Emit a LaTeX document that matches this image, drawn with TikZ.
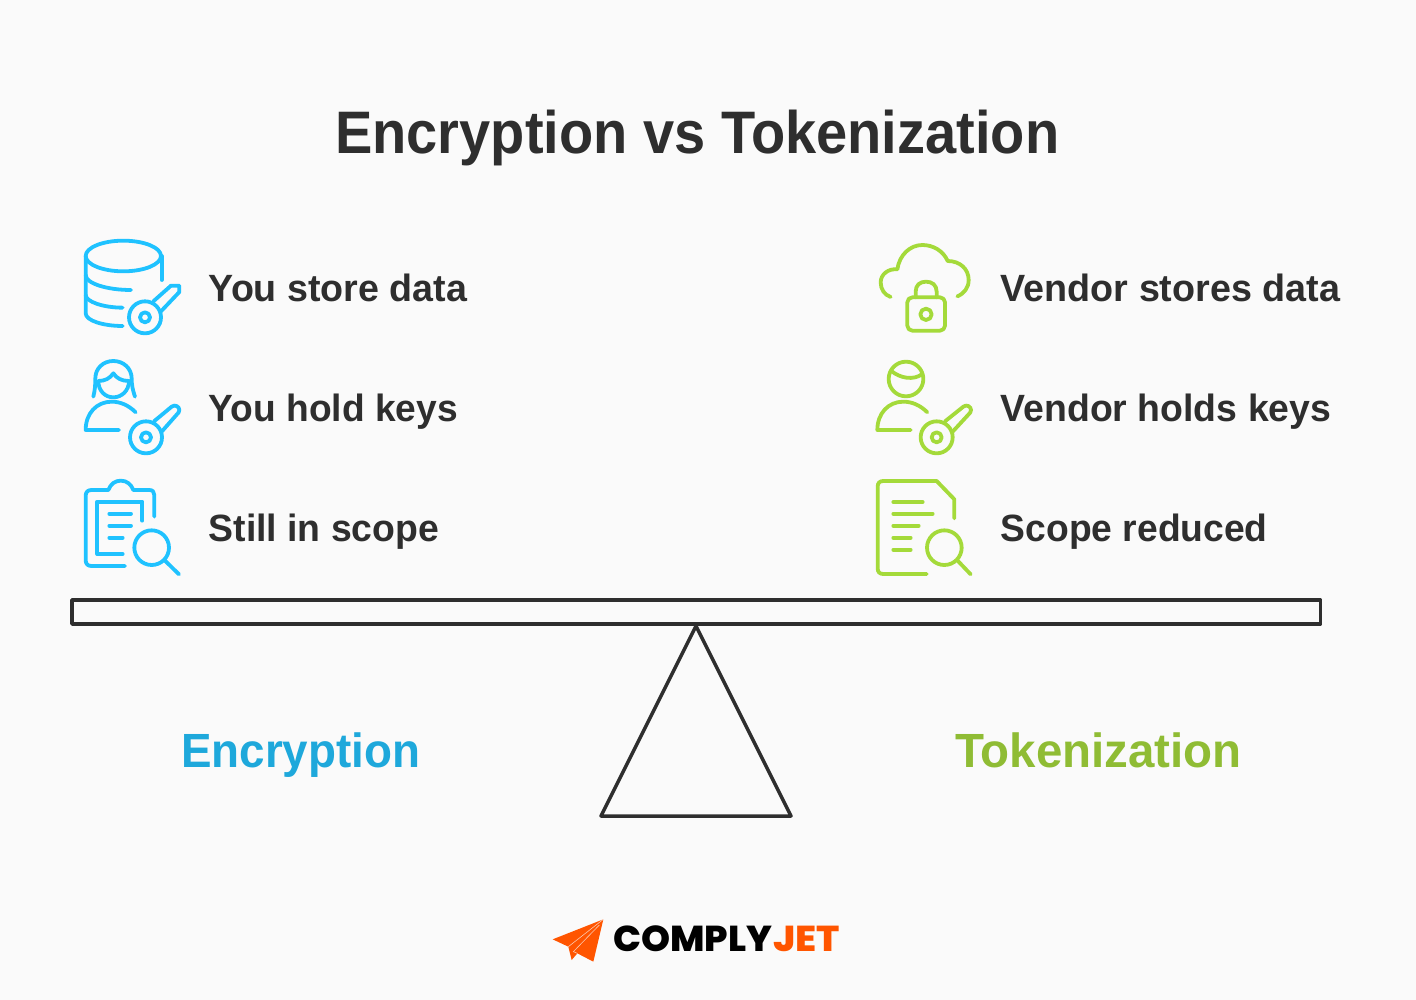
\documentclass[tikz,border=0pt]{standalone}
\usepackage{fontspec}
\usepackage{graphicx}
\setmainfont{Liberation Sans}[BoldFont={Liberation Sans Bold}]
\newfontfamily\logofont{Poppins}[BoldFont={Poppins ExtraBold}]
\definecolor{bgc}{HTML}{FAFAFA}
\definecolor{ink}{HTML}{2E2E2E}
\definecolor{iblue}{HTML}{1FC2FF}
\definecolor{igreen}{HTML}{A4DA3A}
\definecolor{tblue}{HTML}{1EA8DB}
\definecolor{tgreen}{HTML}{8FBC34}
\definecolor{jet}{HTML}{FF5500}
\newsavebox\tbx
\newcommand\fw[3]{\fontsize{#2}{#2}\selectfont\bfseries\sbox\tbx{#3}\resizebox{#1pt}{\ht\tbx}{\usebox\tbx}}
\tikzset{
  icon/.style={line width=3.8pt,line cap=round,line join=round},
  zoomed/.style={shift={#1},scale=1/3},
  lbl/.style={anchor=base west,inner sep=0pt,text=ink},
  ctr/.style={anchor=base west,inner sep=0pt},
}
\begin{document}
\begin{tikzpicture}[x=1pt,y=-1pt]
\useasboundingbox (0,0) rectangle (1416,1000);
\fill[bgc] (0,0) rectangle (1416,1000);

\node[lbl] (title) at (335,153.5) {\fw{724}{60}{Encryption vs Tokenization}};
\node[lbl] (a1) at (208.5,301.5) {\fw{258.5}{38}{You store data}};
\node[lbl] (a2) at (208.5,421.5) {\fw{249}{38}{You hold keys}};
\node[lbl] (a3) at (208.5,541.5) {\fw{230.5}{38}{Still in scope}};
\node[lbl] (b1) at (1000.5,301.5) {\fw{339.5}{38}{Vendor stores data}};
\node[lbl] (b2) at (1000.5,421.5) {\fw{330.5}{38}{Vendor holds keys}};
\node[lbl] (b3) at (1000.5,541.5) {\fw{267}{38}{Scope reduced}};
\node[ctr,text=tblue] (enc) at (181,767.5) {\fw{239}{48}{Encryption}};
\node[ctr,text=tgreen] (tok) at (955,767.5) {\fw{286.5}{48}{Tokenization}};

% balance
\draw[ink,line width=3.5pt,line join=round] (72,600) rectangle (1320.5,624);
\draw[ink,line width=3.5pt,line join=round] (696,626) -- (601,816) -- (791,816) -- cycle;

% database + key
\begin{scope}[zoomed={(70,230)},icon,iblue]
\draw (160,78) ellipse (113 and 46);
\draw (47,78) -- (47,250) .. controls (47,272) and (100,288) .. (158,288);
\draw (47,135) .. controls (47,160) and (110,180) .. (183,180);
\draw (47,195) .. controls (47,215) and (100,233) .. (158,233);
\draw (275,78) -- (275,150);
\draw (225,262) circle (48);
\draw (225,262) circle (15);
\draw (250,214) -- (303,167) -- (328,167) -- (328,186) -- (272,245);
\end{scope}

% person + key
\begin{scope}[zoomed={(70,350)},icon,iblue]
\draw (85,93) .. controls (85,122) and (105,142) .. (130,142) .. controls (155,142) and (177,122) .. (177,93);
\draw (70,140) .. controls (75,120) and (76,105) .. (76,85) .. controls (76,55) and (100,33) .. (130,33) .. controls (160,33) and (185,55) .. (185,85) .. controls (185,105) and (188,120) .. (195,140);
\draw (85,93) .. controls (105,93) and (120,85) .. (130,70) .. controls (140,85) and (155,93) .. (177,93);
\draw (197,187) .. controls (175,165) and (150,155) .. (125,155) .. controls (80,155) and (47,190) .. (47,240) -- (147,240);
\draw (228,262) circle (48);
\draw (228,262) circle (15);
\draw (252,214) -- (305,170) .. controls (315,162) and (328,170) .. (328,180) .. controls (328,185) and (325,190) .. (320,194) -- (275,245);
\end{scope}

% clipboard + magnifier
\begin{scope}[zoomed={(70,470)},icon,iblue]
\draw (165,288) -- (65,288) .. controls (53,288) and (47,282) .. (47,270) -- (47,78) .. controls (47,66) and (53,60) .. (65,60) -- (115,60) .. controls (122,42) and (135,32) .. (152,32) .. controls (170,32) and (183,42) .. (190,60) -- (238,60) .. controls (248,60) and (253,66) .. (253,75) -- (253,140);
\draw (158,252) -- (82,252) -- (82,95) -- (217,95) -- (217,152);
\draw (118,131) -- (183,131);
\draw (118,167) -- (183,167);
\draw (118,203) -- (158,203);
\draw (245,233) circle (52);
\draw (284,271) -- (327,313);
\end{scope}

% cloud + lock
\begin{scope}[zoomed={(865,235)},icon,igreen]
\draw (77,186) .. controls (58,180) and (47,162) .. (47,142) .. controls (47,118) and (70,100) .. (97,103) .. controls (103,60) and (135,30) .. (172,30) .. controls (205,30) and (235,48) .. (248,78) .. controls (285,78) and (311,102) .. (311,135) .. controls (311,158) and (298,175) .. (277,184);
\draw[rounded corners=5pt] (127,187) rectangle (240,287);
\draw (152,187) -- (152,170) .. controls (152,150) and (165,140) .. (183,140) .. controls (201,140) and (215,150) .. (215,170) -- (215,187);
\draw (183,238) circle (17);
\end{scope}

% person 2 + key
\begin{scope}[zoomed={(865,350)},icon,igreen]
\draw (123,87) circle (52);
\draw (78,62) .. controls (105,85) and (145,92) .. (172,72);
\draw (187,187) .. controls (165,165) and (140,155) .. (115,155) .. controls (70,155) and (37,190) .. (37,240) -- (137,240);
\draw (215,262) circle (48);
\draw (215,262) circle (15);
\draw (240,214) -- (295,170) .. controls (305,162) and (318,170) .. (318,180) .. controls (318,185) and (315,190) .. (310,194) -- (263,245);
\end{scope}

% document + magnifier
\begin{scope}[zoomed={(865,470)},icon,igreen]
\draw (185,312) -- (55,312) .. controls (44,312) and (38,306) .. (38,295) -- (38,50) .. controls (38,39) and (44,33) .. (55,33) -- (215,33) -- (268,88) -- (268,145);
\draw (85,96) -- (173,96);
\draw (85,131) -- (203,131);
\draw (85,167) -- (161,167);
\draw (85,203) -- (137,203);
\draw (85,239) -- (137,239);
\draw (238,233) circle (52);
\draw (277,271) -- (317,313);
\end{scope}

% logo
\begin{scope}[zoomed={(540,905)}]
\fill[jet] (190,43) -- (38,103) -- (85,125) -- (95,165) -- (112,145) -- (160,170) -- cycle;
\draw[bgc,line width=0.6pt,opacity=.7] (190,43) -- (85,125);
\draw[bgc,line width=0.6pt,opacity=.7] (178,60) -- (100,140) -- (112,145);
\end{scope}
\node[ctr,text=black] (logoa) at (613,951) {\logofont\fw{159}{36}{COMPLY}};
\node[ctr,text=jet] (logob) at (773,951) {\logofont\fw{67}{36}{JET}};
\end{tikzpicture}
\end{document}
